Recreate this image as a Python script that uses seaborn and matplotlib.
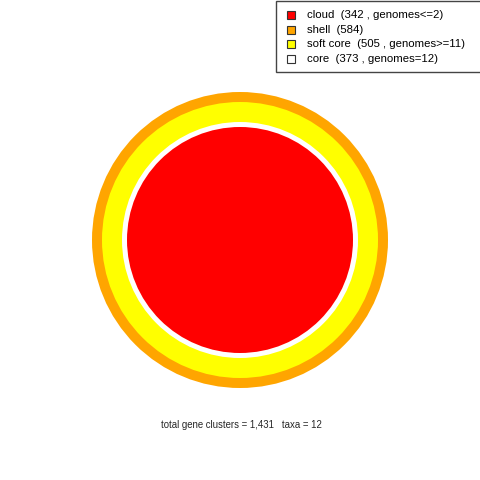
import matplotlib
matplotlib.use("Agg")
import matplotlib.pyplot as plt
from matplotlib.patches import Circle, Rectangle
import seaborn as sns

# pangenome compartments
groups = ["cloud", "shell", "soft core", "core"]
counts = [342, 584, 505, 373]
extra = [" , genomes<=2", "", " , genomes>=11", " , genomes=12"]
colors = ["red", "orange", "yellow", "white"]
total_clusters = 1431
n_taxa = 12

# drawing order outer -> inner, with radius in pixels (layout only)
ring_order = ["shell", "soft core", "core", "cloud"]
ring_radius = [148, 138, 118, 113]

sns.set_theme(style="white")
plt.rcParams["font.family"] = ["Liberation Sans", "DejaVu Sans"]

fig = plt.figure(figsize=(4.8, 4.8), dpi=100)
ax = fig.add_axes([0, 0, 1, 1])
ax.set_xlim(0, 480)
ax.set_ylim(480, 0)
ax.set_aspect("equal")
ax.axis("off")

col_of = dict(zip(groups, colors))
for g, r in zip(ring_order, ring_radius):
    ax.add_patch(Circle((240, 240), r, facecolor=col_of[g], edgecolor="none"))

# legend box drawn by hand, R-style
ax.add_patch(Rectangle((275.5, 0.5), 230, 71, facecolor="white",
                       edgecolor="#444444", linewidth=1, clip_on=True))
labels = [f"{g}  ({n}{e})" for g, n, e in zip(groups, counts, extra)]
for i, (lab, c) in enumerate(zip(labels, colors)):
    y = 15 + i * 14.6
    ax.add_patch(Rectangle((287, y - 4), 8, 8, facecolor=c,
                           edgecolor="#333333", linewidth=0.8))
    ax.text(307, y, lab, ha="left", va="center", fontsize=8.2, color="black")

ax.text(241, 425, f"total gene clusters = {total_clusters:,}   taxa = {n_taxa}",
        ha="center", va="center", fontsize=6.9)

fig.savefig("out.png", dpi=100)
